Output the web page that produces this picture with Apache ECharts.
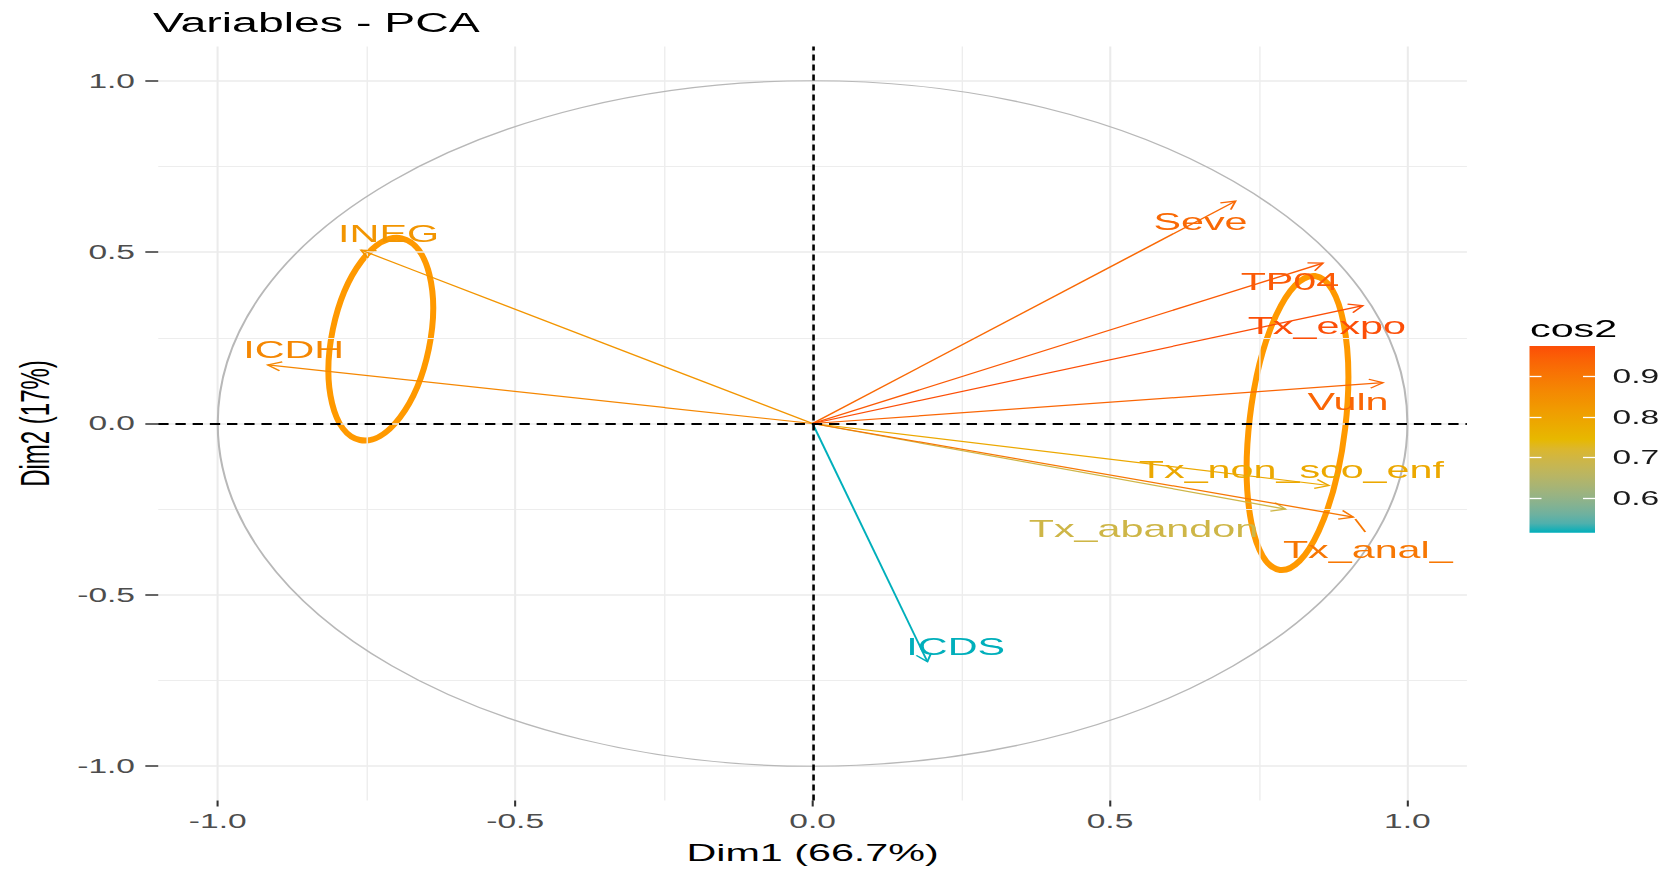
<!DOCTYPE html>
<html><head><meta charset="utf-8">
<script src="https://cdn.jsdelivr.net/npm/echarts@6/dist/echarts.min.js"></script>
<style>
html,body{margin:0;padding:0;background:#fff;overflow:hidden;width:1668px;height:869px;}
#chart{position:absolute;left:0;top:0;height:869px;transform-origin:0 0;}
</style></head><body><div id="chart"></div>
<script>
// ---------------- data ----------------
const varNames = ['Seve','TP04','Tx_expo','Vuln','Tx_non_sco_enf','Tx_abandon','Tx_anal_','INEG','ICDH','ICDS'];
const dim1 = [0.711, 0.858, 0.925, 0.959, 0.868, 0.795, 0.909, -0.759, -0.916, 0.193];
const dim2 = [0.649, 0.468, 0.344, 0.119, -0.181, -0.250, -0.273, 0.506, 0.171, -0.695];
const cos2 = [0.928, 0.956, 0.975, 0.934, 0.786, 0.694, 0.900, 0.832, 0.865, 0.515];
const axisTicks = [-1, -0.5, 0, 0.5, 1];
const minorTicks = [-0.75, -0.25, 0.25, 0.75];
const legendTicks = [0.6, 0.7, 0.8, 0.9];
const gradientColors = ['#00AFBB', '#E7B800', '#FC4E07'];
const titleText = 'Variables - PCA';
const xName = 'Dim1 (66.7%)';
const yName = 'Dim2 (17%)';
const legendTitle = 'cos2';

// ---------------- layout / style ----------------
const K = 1.72;                // horizontal stretch of the reference picture
const W = 1668 / K, H = 869;
const px = v => v / K;
const FONT = '"Liberation Sans", Arial, Helvetica, sans-serif';
// label offsets from arrow tip, in final pixels [dx, dy]
const labelOffsets = [[-35,20],[-33,18],[-36,20],[-35,19],[-37.5,-16],[-142,19],[14.5,32],[27.5,-17],[26,-15],[28.3,-15]];
const repelSegments = {6: [12, 15]};

// ---------------- colour scale (Lab interpolation) ----------------
function hex2rgb(h){h=h.replace('#','');return [0,2,4].map(i=>parseInt(h.substr(i,2),16)/255);}
function lin(c){return c<=0.04045?c/12.92:Math.pow((c+0.055)/1.055,2.4);}
function delin(c){return c<=0.0031308?12.92*c:1.055*Math.pow(c,1/2.4)-0.055;}
const WP=[0.95047,1,1.08883];
function rgb2lab(rgb){const [r,g,b]=rgb.map(lin);
  const X=(0.4124564*r+0.3575761*g+0.1804375*b)/WP[0];
  const Y=(0.2126729*r+0.7151522*g+0.0721750*b)/WP[1];
  const Z=(0.0193339*r+0.1191920*g+0.9503041*b)/WP[2];
  const f=t=>t>0.008856?Math.cbrt(t):(7.787*t+16/116);
  const fx=f(X),fy=f(Y),fz=f(Z);
  return [116*fy-16,500*(fx-fy),200*(fy-fz)];}
function lab2rgb(lab){const fy=(lab[0]+16)/116,fx=fy+lab[1]/500,fz=fy-lab[2]/200;
  const fi=t=>{const t3=t*t*t;return t3>0.008856?t3:(t-16/116)/7.787;};
  const X=fi(fx)*WP[0],Y=fi(fy)*WP[1],Z=fi(fz)*WP[2];
  const r=3.2404542*X-1.5371385*Y-0.4985314*Z;
  const g=-0.9692660*X+1.8760108*Y+0.0415560*Z;
  const b=0.0556434*X-0.2040259*Y+1.0572252*Z;
  return [r,g,b].map(c=>Math.round(Math.min(1,Math.max(0,delin(Math.max(0,c))))*255));}
const labStops = gradientColors.map(c=>rgb2lab(hex2rgb(c)));
function colorAtT(t){t=Math.min(1,Math.max(0,t));const n=labStops.length-1;const s=t*n;
  const i=Math.min(n-1,Math.floor(s));const f=s-i;const a=labStops[i],b=labStops[i+1];
  const rgb=lab2rgb([0,1,2].map(j=>a[j]+(b[j]-a[j])*f));return 'rgb('+rgb.join(',')+')';}
const cosMin=Math.min(...cos2), cosMax=Math.max(...cos2);
const colorFor=v=>colorAtT((v-cosMin)/(cosMax-cosMin));

const arrowData = varNames.map((n,i)=>[dim1[i], dim2[i], cos2[i]]);

function renderArrow(params, api){
  const o=api.coord([0,0]);
  const t=api.coord([api.value(0), api.value(1)]);
  const col=colorFor(api.value(2));
  const ang=Math.atan2(t[1]-o[1], t[0]-o[0]);
  const L=9, A=Math.PI/6;
  const b1=[t[0]-L*Math.cos(ang-A), t[1]-L*Math.sin(ang-A)];
  const b2=[t[0]-L*Math.cos(ang+A), t[1]-L*Math.sin(ang+A)];
  const children=[
    {type:'line', shape:{x1:o[0],y1:o[1],x2:t[0],y2:t[1]}, style:{stroke:col, lineWidth:1.2}},
    {type:'polyline', shape:{points:[b1,t,b2]}, style:{stroke:col, lineWidth:1.2, fill:'none'}}
  ];
  const seg=repelSegments[params.dataIndex];
  if(seg){children.push({type:'line', shape:{x1:t[0]+px(2),y1:t[1]+2,x2:t[0]+px(seg[0]),y2:t[1]+seg[1]}, style:{stroke:col, lineWidth:1.2}});}
  return {type:'group', children};
}
function renderLabel(params, api){
  const i=params.dataIndex;
  const t=api.coord([api.value(0), api.value(1)]);
  const col=colorFor(api.value(2));
  const off=labelOffsets[i];
  return {type:'text', style:{text:varNames[i], x:t[0]+px(off[0]), y:t[1]+off[1], fill:col,
    fontSize:24, fontFamily:FONT, align:'center', verticalAlign:'middle'}};
}
function renderCircle(params, api){
  const c=api.coord([0,0]); const s=api.size([1,1]);
  return {type:'ellipse', shape:{cx:c[0],cy:c[1],rx:s[0],ry:s[1]}, style:{fill:'none', stroke:'#b8b8b8', lineWidth:1.2}};
}
const legendStops=[];
for(let s=0;s<=20;s++){legendStops.push({offset:s/20, color:colorAtT(s/20)});}
function renderBar(params, api){
  const p0=api.coord([0, cosMax]); const p1=api.coord([1, cosMin]);
  return {type:'rect', shape:{x:p0[0], y:p0[1], width:p1[0]-p0[0], height:p1[1]-p0[1]},
    style:{fill:new echarts.graphic.LinearGradient(0,1,0,0,legendStops)}};
}

const el=document.getElementById('chart');
el.style.width=W+'px';
el.style.transform='scaleX('+K+')';
const chart=echarts.init(el,null,{renderer:'svg', width:W, height:H});

const gridL=px(155.1), gridR=px(1466.9);
const tickLabel={fontSize:19.5, color:'#4d4d4d', fontFamily:FONT};
const noLine={show:false, onZero:false};

chart.setOption({
  animation:false,
  backgroundColor:'#ffffff',
  title:[
    {text:titleText, left:px(153), top:9, padding:0, textStyle:{fontSize:27, fontWeight:'normal', color:'#000', fontFamily:FONT}},
    {text:legendTitle, left:px(1530), top:316, padding:0, textStyle:{fontSize:24, fontWeight:'normal', color:'#000', fontFamily:FONT}}
  ],
  grid:[
    {left:gridL, top:46.5, width:gridR-gridL, height:757, containLabel:false},
    {left:px(1529.5), top:346, width:px(65.5), height:186.7, containLabel:false}
  ],
  xAxis:[
    {gridIndex:0, type:'value', min:-1.1, max:1.1, position:'bottom',
     axisLine:noLine,
     axisTick:{show:true, customValues:axisTicks, length:6, lineStyle:{color:'#333', width:1.2}},
     axisLabel:{show:true, customValues:axisTicks, formatter:v=>v.toFixed(1), margin:11, ...tickLabel},
     splitLine:{show:true, lineStyle:{color:'#ebebeb', width:1.2}},
     name:xName, nameLocation:'middle', nameGap:39.5,
     nameTextStyle:{fontSize:24, color:'#000', fontFamily:FONT}},
    {gridIndex:0, type:'value', min:-1.1, max:1.1, position:'top',
     axisLine:noLine, axisLabel:{show:false},
     axisTick:{show:false, customValues:minorTicks},
     splitLine:{show:true, lineStyle:{color:'#ededed', width:0.8}}},
    {gridIndex:1, type:'value', min:0, max:1, show:false, axisLine:noLine}
  ],
  yAxis:[
    {gridIndex:0, type:'value', min:-1.1, max:1.1, position:'left',
     axisLine:noLine,
     axisTick:{show:true, customValues:axisTicks, length:7.5, lineStyle:{color:'#333', width:1.5}},
     axisLabel:{show:true, customValues:axisTicks, formatter:v=>v.toFixed(1), margin:13.5, ...tickLabel},
     splitLine:{show:true, lineStyle:{color:'#ebebeb', width:1.6}},
     name:yName, nameLocation:'middle', nameGap:60,
     nameTextStyle:{fontSize:24, color:'#000', fontFamily:FONT}},
    {gridIndex:0, type:'value', min:-1.1, max:1.1, position:'right',
     axisLine:noLine, axisLabel:{show:false},
     axisTick:{show:false, customValues:minorTicks},
     splitLine:{show:true, lineStyle:{color:'#ededed', width:1}}},
    {gridIndex:1, type:'value', min:cosMin, max:cosMax, position:'left', z:10,
     axisLine:noLine, axisLabel:{show:false}, splitLine:{show:false},
     axisTick:{show:true, inside:true, customValues:legendTicks, length:px(12), lineStyle:{color:'#fff', width:1.3}}},
    {gridIndex:1, type:'value', min:cosMin, max:cosMax, position:'right', z:10,
     axisLine:noLine, splitLine:{show:false},
     axisTick:{show:true, inside:true, customValues:legendTicks, length:px(12), lineStyle:{color:'#fff', width:1.3}},
     axisLabel:{show:true, customValues:legendTicks, formatter:v=>v.toFixed(1), margin:px(17.5), fontSize:19.5, color:'#1a1a1a', fontFamily:FONT}}
  ],
  series:[
    {type:'custom', name:'circle', xAxisIndex:0, yAxisIndex:0, data:[[0,0]], renderItem:renderCircle, silent:true, z:1},
    {type:'scatter', name:'origin', xAxisIndex:0, yAxisIndex:0, data:[[0,0]], symbolSize:0, silent:true, z:2,
     markLine:{silent:true, symbol:['none','none'], label:{show:false}, animation:false,
       data:[
         {xAxis:0, lineStyle:{color:'#000', width:1.5, type:[6,4]}},
         {yAxis:0, lineStyle:{color:'#000', width:1.8, type:[6,4]}}
       ]}},
    {type:'custom', name:'arrows', xAxisIndex:0, yAxisIndex:0, data:arrowData, renderItem:renderArrow, silent:true, z:3},
    {type:'custom', name:'labels', xAxisIndex:0, yAxisIndex:0, data:arrowData, renderItem:renderLabel, silent:true, z:4},
    {type:'custom', name:'colorbar', xAxisIndex:2, yAxisIndex:2, data:[[0, cosMin]], renderItem:renderBar, silent:true, z:2}
  ],
  graphic:[
    {type:'group', x:0, y:0, scaleX:1/K, z:100, silent:true, children:[
      {type:'ellipse', x:380.8, y:339.2, rotation:-11.7*Math.PI/180, shape:{cx:0,cy:0,rx:49,ry:103},
       style:{fill:'none', stroke:'#ff9900', lineWidth:6}},
      {type:'ellipse', x:1297.5, y:423, rotation:-6.8*Math.PI/180, shape:{cx:0,cy:0,rx:48,ry:148},
       style:{fill:'none', stroke:'#ff9900', lineWidth:6}}
    ]}
  ]
});
</script></body></html>
